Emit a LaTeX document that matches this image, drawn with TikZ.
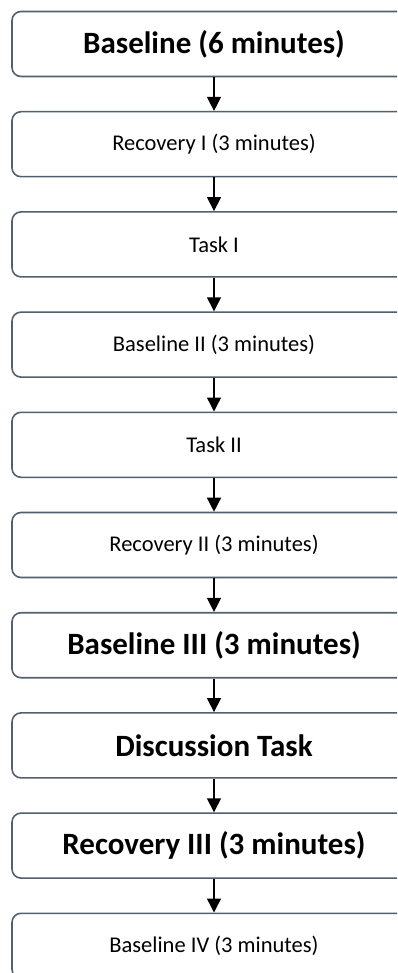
\documentclass[tikz,border=0pt]{standalone}
\usepackage{fontspec}
\setmainfont{Carlito}
\usetikzlibrary{positioning}
\usetikzlibrary{arrows.meta}

\definecolor{boxline}{HTML}{52606E}

\begin{document}
\begin{tikzpicture}[x=1pt,y=1pt,
  stage/.style={draw=boxline,line width=1.6pt,rounded corners=9pt,fill=white,
    minimum width=404pt,minimum height=65pt,inner sep=0pt,
    font=\fontsize{22.5}{26}\selectfont},
  bigstage/.style={stage,font=\bfseries\fontsize{31}{36}\selectfont},
  flow/.style={-{Triangle[length=14pt,width=14pt]},line width=1.4pt,black}]

\useasboundingbox (0,0) rectangle (397,-973);
\clip (0,0) rectangle (397,-973);

\node[bigstage] (base1) at (214,-44) {Baseline (6 minutes)};
\node[stage,below=33.6pt of base1] (rec1) {Recovery I (3 minutes)};
\node[stage,below=33.6pt of rec1] (task1) {Task I};
\node[stage,below=33.6pt of task1] (base2) {Baseline II (3 minutes)};
\node[stage,below=33.6pt of base2] (task2) {Task II};
\node[stage,below=33.6pt of task2] (rec2) {Recovery II (3 minutes)};
\node[bigstage,below=33.6pt of rec2] (base3) {Baseline III (3 minutes)};
\node[bigstage,below=33.6pt of base3] (disc) {Discussion Task};
\node[bigstage,below=33.6pt of disc] (rec3) {Recovery III (3 minutes)};
\node[stage,below=33.6pt of rec3] (base4) {Baseline IV (3 minutes)};

\draw[flow] (base1)--(rec1);
\draw[flow] (rec1)--(task1);
\draw[flow] (task1)--(base2);
\draw[flow] (base2)--(task2);
\draw[flow] (task2)--(rec2);
\draw[flow] (rec2)--(base3);
\draw[flow] (base3)--(disc);
\draw[flow] (disc)--(rec3);
\draw[flow] (rec3)--(base4);

\end{tikzpicture}
\end{document}
